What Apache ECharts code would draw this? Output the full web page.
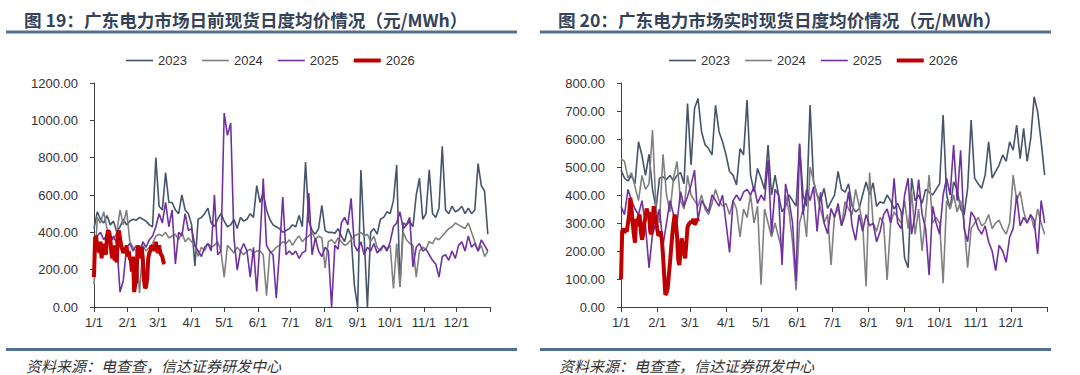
<!DOCTYPE html>
<html>
<head>
<meta charset="utf-8">
<script src="https://cdn.jsdelivr.net/npm/echarts@6/dist/echarts.min.js"></script>
<style>
    body { margin: 0; background: #fff; }
    #chart { width: 1080px; height: 375px; }
</style>
</head>
<body>
<div id="chart"></div>
<script>
    // x axis: day of year, labelled at the first of each month
    const monthLabels = ['1/1', '2/1', '3/1', '4/1', '5/1', '6/1', '7/1', '8/1', '9/1', '10/1', '11/1', '12/1'];
    const monthStartDays = [0, 31, 59, 90, 120, 151, 181, 212, 243, 273, 304, 334];
    const yearNames = ['2023', '2024', '2025', '2026'];

    // 2023-2025 every 3rd day, 2026 read daily
    const yearStep = 3;
    const dayStep2026 = 1;

    // 图19 日前 (day-ahead), 元/MWh
    const dayAhead2023 = [
        420, 510, 470, 450, 490, 440, 460, 400, 430, 470, 440,
        460, 470, 465, 480, 470, 460, 440, 430, 800,
        540, 520, 720, 560, 560, 520, 500, 600, 520, 500,
        440, 220, 470, 480, 500, 530, 450, 430, 470, 500,
        460, 430, 440, 470, 420, 480, 460, 470, 500, 480, 650,
        560, 610, 520, 470, 440, 430, 420, 400, 410, 420,
        440, 430, 490, 430, 777, 460, 410, 390, 420, 545,
        410, 400, 400, 395, 420, 380, 350, 420, 380, 116,
        0, 734, 380, 0, 400, 420, 390, 470, 480, 510,
        500, 570, 760, 107, 450, 440, 460, 430, 600, 690, 470,
        500, 735, 500, 480, 530, 861, 520, 500, 540, 510,
        520, 540, 500, 530, 500, 520, 768, 650, 620, 390
    ];
    const dayAhead2024 = [
        120, 480, 450, 510, 420, 380, 360, 400, 520, 440, 520,
        350, 320, 300, 75, 330, 300, 320, 340, 380,
        390, 380, 400, 370, 380, 390, 360, 400, 350, 370,
        350, 330, 270, 320, 300, 340, 320, 330, 350, 300,
        160, 330, 310, 290, 320, 300, 280, 300, 310, 290, 300,
        300, 280, 60, 290, 300, 320, 330, 350, 340, 360,
        330, 360, 380, 350, 370, 380, 400, 360, 380, 370,
        210, 350, 360, 340, 370, 350, 330, 340, 360, 380,
        390, 400, 380, 390, 350, 380, 320, 300, 330, 310,
        330, 100, 340, 107, 400, 360, 340, 330, 160, 300, 320,
        310, 350, 340, 370, 360, 380, 400, 420, 430, 450,
        440, 430, 420, 450, 400, 350, 300, 330, 270, 300
    ];
    const dayAhead2025 = [
        370, 380, 400, 360, 390, 350, 380, 340, 80, 142, 320,
        340, 300, 330, 280, 350, 320, 360, 380, 430,
        500, 450, 560, 430, 520, 230, 400, 380, 500, 410,
        420, 330, 300, 270, 320, 340, 300, 600, 280, 300,
        1039, 920, 985, 370, 197, 300, 340, 300, 160, 320, 83,
        350, 688, 330, 300, 280, 47, 300, 589, 280, 300,
        280, 300, 260, 290, 300, 610, 280, 370, 300, 270,
        320, 300, 0, 330, 310, 450, 480, 440, 582, 330,
        300, 350, 280, 320, 300, 340, 290, 310, 330, 300,
        350, 430, 450, 510, 420, 440, 480, 215, 320, 340, 300,
        310, 280, 250, 230, 160, 270, 280, 250, 300, 260,
        330, 350, 300, 380, 320, 340, 300, 360, 330, 300
    ];
    const dayAhead2026 = [
        160, 370, 380, 300, 330, 290, 350, 260, 340, 300, 310, 280, 380, 410, 400, 370, 290, 260, 330, 250,
        260, 240, 390, 410, 370, 330, 310, 290, 300, 290, 330, 270, 300, 260, 250, 190, 270, 80, 120, 140,
        290, 330, 260, 300, 320, 260, 150, 100, 110, 150, 260, 290, 300, 330, 310, 330, 300, 350, 310, 290,
        330, 290, 280, 270, 240, 230
    ];

    // 图20 实时 (real-time), 元/MWh
    const realTime2023 = [
        490, 460, 450, 470, 440, 590, 540, 470, 545, 420, 352,
        460, 465, 455, 470, 450, 470, 480, 440, 727,
        507, 709, 745, 626, 580, 566, 543, 720, 626, 590,
        543, 484, 471, 436, 566, 543, 739, 471, 412, 495,
        460, 420, 578, 400, 471, 400, 340, 360, 400, 380, 360,
        580, 400, 360, 721, 447, 400, 380, 424, 352, 376,
        400, 484, 420, 410, 440, 360, 340, 350, 400, 447,
        400, 443, 360, 376, 370, 400, 380, 350, 370, 340,
        174, 140, 460, 380, 400, 370, 420, 410, 400, 420,
        440, 686, 400, 350, 447, 420, 350, 330, 424, 668, 460,
        440, 424, 471, 590, 460, 484, 507, 543, 520, 590,
        560, 650, 530, 638, 520, 600, 751, 697, 590, 471
    ];
    const realTime2024 = [
        530, 520, 460, 480, 430, 380, 470, 420, 440, 632, 352,
        300, 545, 400, 340, 460, 520, 380, 350, 470,
        400, 380, 360, 400, 350, 330, 370, 420, 380, 360,
        370, 330, 380, 350, 250, 350, 320, 400, 300, 360,
        80, 350, 300, 250, 300, 250, 200, 400, 340, 230, 60,
        300, 350, 250, 500, 450, 400, 350, 300, 330, 150,
        330, 350, 290, 376, 350, 330, 420, 360, 300, 73,
        480, 300, 270, 320, 300, 97, 300, 340, 320, 300,
        380, 280, 412, 260, 350, 200, 330, 471, 300, 320,
        300, 85, 380, 350, 400, 340, 380, 300, 140, 280, 300,
        320, 290, 300, 330, 280, 300, 310, 280, 260, 300,
        471, 380, 412, 340, 300, 330, 280, 350, 300, 260
    ];
    const realTime2025 = [
        360, 330, 420, 380, 350, 330, 380, 290, 140, 260, 300,
        350, 220, 300, 380, 330, 300, 412, 360, 395,
        436, 489, 310, 380, 360, 340, 400, 380, 360, 400,
        300, 195, 380, 400, 380, 410, 420, 400, 430, 370,
        400, 380, 524, 262, 420, 400, 150, 440, 380, 300, 92,
        584, 330, 420, 380, 430, 270, 410, 300, 262, 352,
        320, 370, 290, 330, 412, 290, 238, 330, 270, 330,
        290, 300, 233, 270, 330, 350, 300, 460, 300, 280,
        400, 460, 260, 330, 455, 330, 280, 114, 360, 300,
        260, 400, 460, 400, 578, 380, 560, 280, 233, 340, 320,
        280, 260, 290, 233, 200, 130, 220, 200, 160, 250,
        280, 400, 290, 320, 300, 330, 310, 190, 380, 300
    ];
    const realTime2026 = [
        100, 270, 280, 265, 275, 270, 300, 330, 390, 350, 300, 260, 230, 315, 290, 320, 330, 270, 240, 260,
        300, 320, 352, 330, 340, 270, 260, 300, 360, 330, 310, 280, 255, 260, 270, 240, 185, 114, 43, 50,
        67, 114, 160, 210, 260, 300, 330, 300, 255, 170, 150, 200, 245, 220, 190, 174, 230, 285, 295, 300,
        305, 300, 315, 295, 300, 315, 305
    ];

    const lineColors = ['#44546a', '#808080', '#7030a0', '#c00000'];
    const lineWidths = [1.6, 1.6, 1.6, 4];
    const numFont = '"Liberation Sans", Arial, sans-serif';
    const cjkFont = '"Noto Sans CJK SC", sans-serif';

    function toPoints (values, step) {
        return values.map((v, i) => [i * step, v]);
    }

    function makeSeries (idx, lists) {
        const steps = [yearStep, yearStep, yearStep, dayStep2026];
        return lists.map((vals, k) => ({
            name: yearNames[k],
            type: 'line',
            xAxisIndex: idx,
            yAxisIndex: idx,
            symbol: 'none',
            data: toPoints(vals, steps[k]),
            lineStyle: { width: lineWidths[k], color: lineColors[k] },
            itemStyle: { color: lineColors[k] },
            z: 2 + k
        }));
    }

    function makeXAxis (idx) {
        return {
            type: 'value',
            gridIndex: idx,
            min: 0,
            max: 365,
            splitLine: { show: false },
            axisLine: { lineStyle: { color: '#404040', width: 1 } },
            axisTick: { length: 5, customValues: monthStartDays.concat([365]), lineStyle: { color: '#404040' } },
            axisLabel: {
                customValues: monthStartDays,
                formatter: v => monthLabels[monthStartDays.indexOf(v)],
                margin: 9,
                fontSize: 13,
                color: '#333',
                fontFamily: numFont
            }
        };
    }

    function makeYAxis (idx, max, interval) {
        return {
            type: 'value',
            gridIndex: idx,
            min: 0,
            max: max,
            interval: interval,
            splitLine: { show: false },
            axisLine: { show: true, lineStyle: { color: '#404040', width: 1 } },
            axisTick: { show: true, length: 4, lineStyle: { color: '#404040' } },
            axisLabel: {
                formatter: v => v.toFixed(2),
                margin: 16,
                fontSize: 13,
                color: '#333',
                fontFamily: numFont
            }
        };
    }

    // plain line swatches in the legend, the 2026 one thicker
    function makeLegend (left) {
        return {
            left: left,
            top: 49,
            itemWidth: 27,
            itemHeight: 10,
            itemGap: 15,
            data: yearNames.map((name, k) => ({
                name: name,
                icon: 'path://M0,0L27,0L27,' + lineWidths[k] + 'L0,' + lineWidths[k] + 'Z'
            })),
            textStyle: { fontSize: 13, color: '#333', fontFamily: numFont }
        };
    }

    const titleStyle = { fontSize: 17.6, fontWeight: 'bold', color: '#34425a', fontFamily: cjkFont };
    const sourceStyle = { fontSize: 15, fontStyle: 'italic', fontWeight: 'normal', color: '#333', fontFamily: cjkFont };
    const ruleStyle = { stroke: '#54708f', lineWidth: 3 };

    const myChart = echarts.init(document.getElementById('chart'), null, { renderer: 'svg' });

    let option = {
        animation: false,
        backgroundColor: '#fff',
        title: [
            { text: '图 19：广东电力市场日前现货日度均价情况（元/MWh）', left: 19, top: 6, textStyle: titleStyle },
            { text: '图 20：广东电力市场实时现货日度均价情况（元/MWh）', left: 553, top: 6, textStyle: titleStyle },
            { text: '资料来源：电查查，信达证券研发中心', left: 21, top: 353, textStyle: sourceStyle },
            { text: '资料来源：电查查，信达证券研发中心', left: 554, top: 353, textStyle: sourceStyle }
        ],
        graphic: [
            { type: 'line', shape: { x1: 6, y1: 32, x2: 517, y2: 32 }, style: ruleStyle },
            { type: 'line', shape: { x1: 540, y1: 32, x2: 1051, y2: 32 }, style: ruleStyle },
            { type: 'line', shape: { x1: 6, y1: 349.5, x2: 517, y2: 349.5 }, style: ruleStyle },
            { type: 'line', shape: { x1: 540, y1: 349.5, x2: 1051, y2: 349.5 }, style: ruleStyle }
        ],
        legend: [makeLegend(121), makeLegend(664)],
        grid: [
            { left: 94, top: 83, width: 396, height: 224 },
            { left: 621, top: 83, width: 426, height: 224 }
        ],
        xAxis: [makeXAxis(0), makeXAxis(1)],
        yAxis: [makeYAxis(0, 1200, 200), makeYAxis(1, 800, 100)],
        series: makeSeries(0, [dayAhead2023, dayAhead2024, dayAhead2025, dayAhead2026])
            .concat(makeSeries(1, [realTime2023, realTime2024, realTime2025, realTime2026]))
    };

    myChart.setOption(option);
</script>
</body>
</html>
